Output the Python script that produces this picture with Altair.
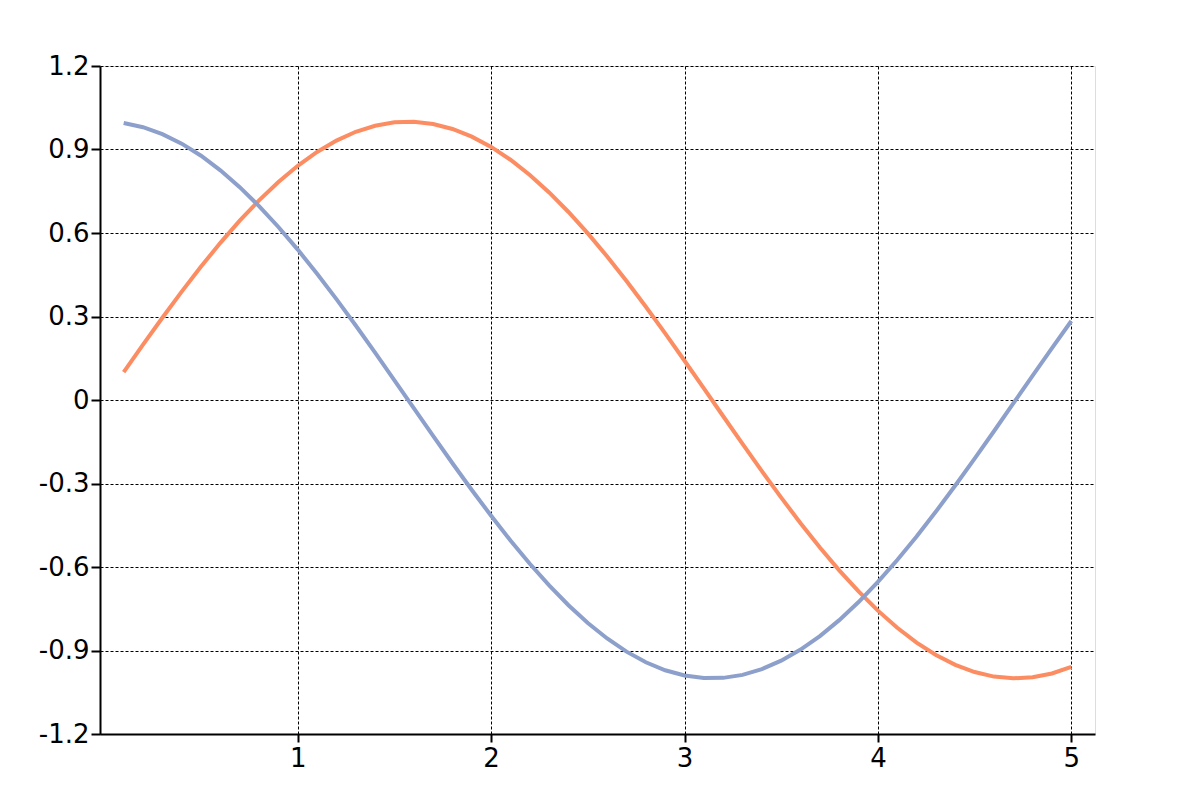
import altair as alt
import pandas as pd

x_vals = [0.1, 0.2, 0.3, 0.4, 0.5, 0.6, 0.7, 0.8, 0.9, 1.0,
          1.1, 1.2, 1.3, 1.4, 1.5, 1.6, 1.7, 1.8, 1.9, 2.0,
          2.1, 2.2, 2.3, 2.4, 2.5, 2.6, 2.7, 2.8, 2.9, 3.0,
          3.1, 3.2, 3.3, 3.4, 3.5, 3.6, 3.7, 3.8, 3.9, 4.0,
          4.1, 4.2, 4.3, 4.4, 4.5, 4.6, 4.7, 4.8, 4.9, 5.0]

orange_vals = [0.0998, 0.1987, 0.2955, 0.3894, 0.4794, 0.5646, 0.6442, 0.7174, 0.7833, 0.8415,
               0.8912, 0.9320, 0.9636, 0.9854, 0.9975, 0.9996, 0.9917, 0.9738, 0.9463, 0.9093,
               0.8632, 0.8085, 0.7457, 0.6755, 0.5985, 0.5155, 0.4274, 0.3350, 0.2392, 0.1411,
               0.0416, -0.0584, -0.1577, -0.2555, -0.3508, -0.4425, -0.5298, -0.6119, -0.6878, -0.7568,
               -0.8183, -0.8716, -0.9162, -0.9516, -0.9775, -0.9937, -0.9999, -0.9962, -0.9825, -0.9589]

blue_vals = [0.9950, 0.9801, 0.9553, 0.9211, 0.8776, 0.8253, 0.7648, 0.6967, 0.6216, 0.5403,
             0.4536, 0.3624, 0.2675, 0.1700, 0.0707, -0.0292, -0.1288, -0.2272, -0.3233, -0.4161,
             -0.5048, -0.5885, -0.6663, -0.7374, -0.8011, -0.8569, -0.9041, -0.9422, -0.9710, -0.9900,
             -0.9991, -0.9983, -0.9875, -0.9668, -0.9365, -0.8968, -0.8481, -0.7910, -0.7259, -0.6536,
             -0.5748, -0.4903, -0.4008, -0.3073, -0.2108, -0.1122, -0.0124, 0.0875, 0.1865, 0.2837]

x_ticks = [1, 2, 3, 4, 5]
y_ticks = [-1.2, -0.9, -0.6, -0.3, 0, 0.3, 0.6, 0.9, 1.2]

series_names = ["sin", "cos"]
series_colors = ["#fc8d62", "#8da0cb"]

rows = []
for xv, ov, bv in zip(x_vals, orange_vals, blue_vals):
    rows.append({"x": xv, "y": ov, "series": "sin"})
    rows.append({"x": xv, "y": bv, "series": "cos"})
df = pd.DataFrame(rows)

FONT = "DejaVu Sans"
FS = 26

chart = alt.Chart(df).mark_line(strokeWidth=4).encode(
    x=alt.X("x:Q",
            scale=alt.Scale(domain=[-0.0225, 5.1225], nice=False, zero=False),
            axis=alt.Axis(values=x_ticks, title=None, format="d",
                          grid=True, gridDash=[3, 2], gridColor="#000000", gridWidth=1, gridOpacity=1,
                          domainColor="#000000", domainWidth=2,
                          tickColor="#000000", tickWidth=2, tickSize=8,
                          labelFont=FONT, labelFontSize=FS, labelColor="#000000",
                          labelPadding=3)),
    y=alt.Y("y:Q",
            scale=alt.Scale(domain=[-1.2, 1.2], nice=False),
            axis=alt.Axis(values=y_ticks, title=None,
                          labelExpr="(datum.value < -0.00001 ? '-' : '') + format(abs(datum.value), '.1~f')",
                          grid=True, gridDash=[3, 2], gridColor="#000000", gridWidth=1, gridOpacity=1,
                          domainColor="#000000", domainWidth=2,
                          tickColor="#000000", tickWidth=2, tickSize=9,
                          labelFont=FONT, labelFontSize=FS, labelColor="#000000",
                          labelPadding=2)),
    color=alt.Color("series:N", scale=alt.Scale(domain=series_names, range=series_colors), legend=None),
    detail="series:N",
).properties(
    width=995,
    height=668,
    padding={"left": 92, "top": 58, "right": 40, "bottom": 50},
    autosize=alt.AutoSizeParams(type="none"),
).configure_view(stroke="#ffffff", strokeOpacity=0, strokeWidth=0, fill="#ffffff").configure(background="#ffffff")

chart.save("out.html", embed_options={"renderer": "svg", "actions": False})
